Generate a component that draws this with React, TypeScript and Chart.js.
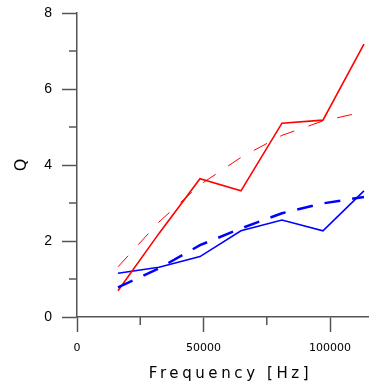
import React, { useEffect, useRef } from 'react';
import { Chart, registerables } from 'chart.js';

Chart.register(...registerables);

const frequencies = [16200, 32400, 48600, 64800, 81000, 97200, 113400];
const qRedMeasured = [0.69, 2.2, 3.64, 3.32, 5.1, 5.18, 7.18];
const qRedFit = [1.32, 2.5, 3.48, 4.2, 4.78, 5.16, 5.4];
const qBlueMeasured = [1.15, 1.31, 1.59, 2.27, 2.55, 2.27, 3.32];
const qBlueFit = [0.78, 1.28, 1.89, 2.33, 2.73, 2.99, 3.16];

const xMajorTicks = [0, 50000, 100000];
const xMinorTicks = [25000, 75000];
const yMajorTicks = [0, 2, 4, 6, 8];
const yMinorTicks = [1, 3, 5, 7];
const xTitle = 'Frequency [Hz]';
const yTitle = 'Q';

const AXIS = '#555';

const axisExtras = {
  id: 'axisExtras',
  afterDraw(chart: any) {
    const { ctx, chartArea, scales } = chart;
    const x = scales.x;
    const y = scales.y;
    ctx.save();
    ctx.strokeStyle = AXIS;
    ctx.lineWidth = 1.5;
    ctx.beginPath();
    xMinorTicks.forEach((v) => {
      const px = x.getPixelForValue(v);
      ctx.moveTo(px, chartArea.bottom);
      ctx.lineTo(px, chartArea.bottom + 8);
    });
    yMinorTicks.forEach((v) => {
      const py = y.getPixelForValue(v);
      ctx.moveTo(chartArea.left, py);
      ctx.lineTo(chartArea.left - 8, py);
    });
    ctx.stroke();

    ctx.font = '15px "DejaVu Sans"';
    (ctx as any).letterSpacing = '3.6px';
    ctx.fillStyle = '#000';
    ctx.textAlign = 'left';
    ctx.textBaseline = 'alphabetic';
    const w = ctx.measureText(xTitle).width;
    const cx = (chartArea.left + chartArea.right) / 2 + 8;
    ctx.fillText(xTitle, cx - w / 2, chart.height - 9);
    ctx.restore();
  },
};

export default function App() {
  const ref = useRef<HTMLCanvasElement | null>(null);

  useEffect(() => {
    if (!ref.current) return;
    const chart = new Chart(ref.current, {
      type: 'line',
      data: {
        datasets: [
          {
            data: frequencies.map((f, i) => ({ x: f, y: qRedFit[i] })),
            borderColor: '#ff0000',
            borderWidth: 1,
            borderDash: [15, 15],
            pointRadius: 0,
            fill: false,
          },
          {
            data: frequencies.map((f, i) => ({ x: f, y: qBlueFit[i] })),
            borderColor: '#0000ff',
            borderWidth: 2.5,
            borderDash: [16, 12],
            pointRadius: 0,
            fill: false,
          },
          {
            data: frequencies.map((f, i) => ({ x: f, y: qRedMeasured[i] })),
            borderColor: '#ff0000',
            borderWidth: 1.6,
            pointRadius: 0,
            fill: false,
          },
          {
            data: frequencies.map((f, i) => ({ x: f, y: qBlueMeasured[i] })),
            borderColor: '#0000ff',
            borderWidth: 1.6,
            pointRadius: 0,
            fill: false,
          },
        ],
      },
      options: {
        animation: false,
        responsive: false,
        maintainAspectRatio: false,
        layout: { padding: { left: 0, right: 1, top: 13, bottom: 0 } },
        plugins: {
          legend: { display: false },
          tooltip: { enabled: false },
        },
        scales: {
          x: {
            type: 'linear',
            min: 0,
            max: 115000,
            afterBuildTicks: (s: any) => {
              s.ticks = xMajorTicks.map((value) => ({ value }));
            },
            afterFit: (s: any) => {
              s.height = 70;
              s.paddingLeft = 0;
              s.paddingRight = 0;
            },
            ticks: {
              autoSkip: false,
              maxRotation: 0,
              padding: 10,
              color: '#000',
              font: { family: 'DejaVu Sans', size: 11 },
              callback: (v: any) => String(v),
            },
            grid: {
              drawOnChartArea: false,
              drawTicks: true,
              tickLength: 15,
              tickColor: AXIS,
              tickWidth: 1.5,
            },
            border: { color: AXIS, width: 1.5 },
          },
          y: {
            type: 'linear',
            min: 0,
            max: 8,
            afterBuildTicks: (s: any) => {
              s.ticks = yMajorTicks.map((value) => ({ value }));
            },
            afterFit: (s: any) => {
              s.width = 77;
              s.paddingTop = 0;
              s.paddingBottom = 0;
            },
            ticks: {
              autoSkip: false,
              padding: 10,
              color: '#000',
              font: { family: 'Liberation Sans', size: 14 },
              callback: (v: any) => String(v),
            },
            grid: {
              drawOnChartArea: false,
              drawTicks: true,
              tickLength: 15,
              tickColor: AXIS,
              tickWidth: 1.5,
            },
            border: { color: AXIS, width: 1.5 },
            title: {
              display: true,
              text: yTitle,
              color: '#000',
              font: { family: 'DejaVu Sans', size: 16 },
              padding: { top: 12, bottom: 0 },
            },
          },
        },
      },
      plugins: [axisExtras],
    });
    return () => chart.destroy();
  }, []);

  return (
    <div style={{ position: 'absolute', left: 0, top: 0, width: 369, height: 387 }}>
      <canvas ref={ref} width={369} height={387} />
    </div>
  );
}
